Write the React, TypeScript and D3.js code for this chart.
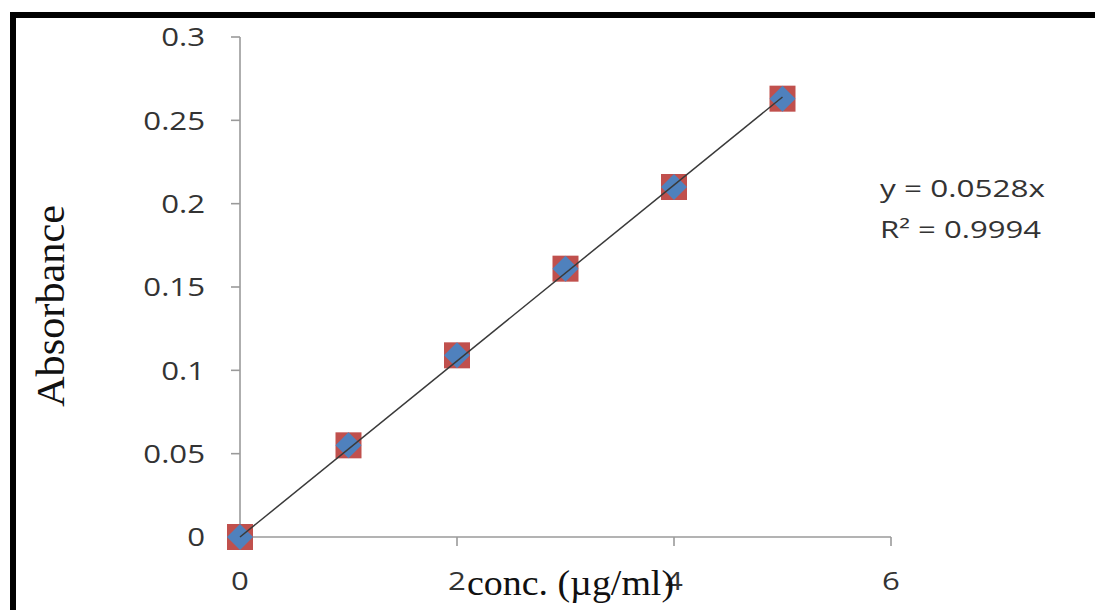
import React from 'react';
import * as d3 from 'd3';

// calibration data
const conc = [0, 1, 2, 3, 4, 5];
const absorbance = [0, 0.055, 0.109, 0.161, 0.21, 0.263];
const slope = 0.0528;
const xTicks = [0, 2, 4, 6];
const yTicks = [0, 0.05, 0.1, 0.15, 0.2, 0.25, 0.3];
const yTickLabels = ['0', '0.05', '0.1', '0.15', '0.2', '0.25', '0.3'];
const eqLines = ['y = 0.0528x', 'R² = 0.9994'];

const W = 1095;
const H = 610;

const App = () => {
  const x = d3.scaleLinear().domain([0, 6]).range([240, 891]);
  const y = d3.scaleLinear().domain([0, 0.3]).range([537, 37]);

  const tickFont = { fontFamily: '"Open Sans", sans-serif', fontSize: 26, fill: '#333' };
  const axisColor = '#9a9a9a';

  const trend = d3.line<number>()
    .x((d) => x(d))
    .y((d) => y(d * slope));

  return (
    <svg width={W} height={H} style={{ position: 'absolute', left: 0, top: 0, background: '#fff' }}>
      {/* outer frame, cut off at right and bottom */}
      <rect x={13} y={15} width={1300} height={1000} fill="none" stroke="#000" strokeWidth={6} />

      {/* y axis */}
      <line x1={x(0)} x2={x(0)} y1={y(0)} y2={y(0.3)} stroke={axisColor} strokeWidth={1.6} />
      {yTicks.map((t, i) => (
        <g key={'y' + i}>
          <line x1={x(0) - 9} x2={x(0)} y1={y(t)} y2={y(t)} stroke={axisColor} strokeWidth={1.6} />
          <text
            {...tickFont}
            textAnchor="end"
            dy="0.36em"
            transform={`translate(205,${y(t)}) scale(1.2,1)`}
          >
            {yTickLabels[i]}
          </text>
        </g>
      ))}

      {/* x axis */}
      <line x1={x(0)} x2={x(6)} y1={y(0)} y2={y(0)} stroke={axisColor} strokeWidth={1.6} />
      {xTicks.map((t) => (
        <g key={'x' + t}>
          <line x1={x(t)} x2={x(t)} y1={y(0)} y2={y(0) + 9} stroke={axisColor} strokeWidth={1.6} />
          <text
            {...tickFont}
            textAnchor="middle"
            transform={`translate(${x(t)},590) scale(1.2,1)`}
          >
            {t}
          </text>
        </g>
      ))}

      {/* markers: red square under blue diamond */}
      {conc.map((c, i) => {
        const cx = x(c);
        const cy = y(absorbance[i]);
        const s = 13;
        return (
          <g key={'m' + i}>
            <rect x={cx - s} y={cy - s} width={2 * s} height={2 * s} fill="#c0504d" />
            <path
              d={`M${cx},${cy - s}L${cx + s},${cy}L${cx},${cy + s}L${cx - s},${cy}Z`}
              fill="#4f81bd"
            />
          </g>
        );
      })}

      {/* linear trendline through origin */}
      <path d={trend([0, 5]) || ''} fill="none" stroke="#3a3a3a" strokeWidth={1.5} />

      {/* equation */}
      {eqLines.map((l, i) => (
        <text
          key={'eq' + i}
          x={880}
          y={197 + i * 41}
          fontFamily='"Open Sans", sans-serif'
          fontSize={24}
          fill="#333"
          textLength={i === 0 ? 165 : 161}
          lengthAdjust="spacingAndGlyphs"
        >
          {l}
        </text>
      ))}

      {/* axis titles */}
      <text
        x={467}
        y={595}
        fontFamily='"Liberation Serif", "Times New Roman", serif'
        fontSize={36}
        fill="#111"
        textLength={207}
        lengthAdjust="spacingAndGlyphs"
      >
        conc. (µg/ml)
      </text>
      <text
        transform="translate(64,306) rotate(-90)"
        textAnchor="middle"
        fontFamily='"Liberation Serif", "Times New Roman", serif'
        fontSize={40}
        fill="#111"
        textLength={202}
        lengthAdjust="spacingAndGlyphs"
      >
        Absorbance
      </text>
    </svg>
  );
};

export default App;
